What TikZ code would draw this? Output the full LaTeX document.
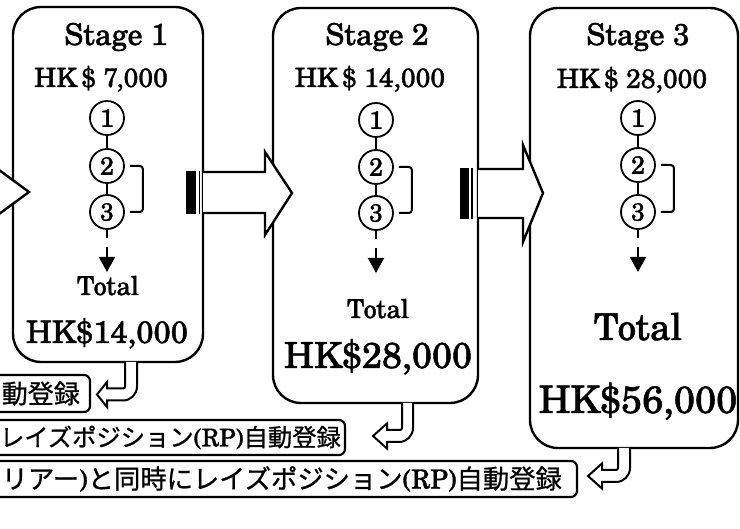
\documentclass[tikz,border=0pt]{standalone}
\usepackage{fontspec}
\setmainfont{TeX Gyre Schola}[FakeBold=1.3]
\newfontfamily\cjk{Noto Sans CJK JP}[FakeBold=0.8]
\usetikzlibrary{arrows.meta,calc}
\newcommand\fs[1]{\fontsize{#1}{#1}\selectfont}
\newcommand\stagecol[5]{%
  \node[num] (#1a) at (#2,#3) {1};
  \node[num] (#1b) at (#2,#4) {2};
  \node[num] (#1c) at (#2,#5) {3};
  \draw[lnk] (#1a) -- (#1b);
  \draw[lnk] (#1b) -- (#1c);
  \draw[lnk, rounded corners=3pt] ([xshift=5pt]#1b.east) -- ++(13,0) |- ([xshift=5pt]#1c.east);
  \coordinate (#1s) at ($(#1c)+(0,26)$);
  \coordinate (#1p) at ($(#1c)+(0,35)$);
  \coordinate (#1q) at ($(#1c)+(0,60)$);
  \draw[lnk] (#1c) -- (#1s);
  \draw[lnk, -{Triangle[length=15pt,width=16pt]}] (#1p) -- (#1q);
}
\newcommand\hookarr[6]{%
  \draw[hookline] (#2,#3) -- (#2,#4-8) to[out=-90,in=0] (#2-14,#4+6) -- (#5,#4+6)
    -- (#5,#4+12.5) -- (#6,#4) -- (#5,#4-12.5) -- (#5,#4-6) -- (#1-2,#4-6)
    to[out=0,in=-90] (#1,#4-8) -- (#1,#3);
}
\begin{document}
\begin{tikzpicture}[x=1pt,y=-1pt,
  box/.style={draw, line width=2.4pt, rounded corners=28pt, inner sep=0pt},
  num/.style={draw, circle, line width=1.8pt, minimum size=34pt, inner sep=0pt, font=\fs{25}},
  lnk/.style={line width=2pt},
  blockarr/.style={draw, fill=white, line width=2.4pt, line join=miter},
  hookline/.style={draw, fill=white, line width=2pt, line join=miter},
  bannerline/.style={draw, line width=2.2pt, rounded corners=6pt},
  txt/.style={anchor=base, inner sep=0pt},
  btxt/.style={anchor=east, inner sep=0pt, font=\cjk\fs{26}}]
\useasboundingbox (0,0) rectangle (740,529);
\clip (0,0) rectangle (740,529);

% stage boxes
\node[box, minimum width=190pt, minimum height=355pt] (s1) at (108,184.5) {};
\node[box, minimum width=205pt, minimum height=395pt] (s2) at (375.5,205.5) {};
\node[box, minimum width=208pt, minimum height=440pt] (s3) at (634,228) {};

% stage 1
\node[txt, font=\fs{30}] (s1title) at (116,45) {Stage 1};
\node[txt, font=\fs{26.5}] (s1price) at (101,87) {HK\,\$ 7,000};
\stagecol{p}{107}{118}{166}{212}
\node[txt, font=\fs{26}] (s1tot) at (108,295) {Total};
\node[txt, font=\fs{31}] (s1sum) at (107,343) {HK\$14,000};

% stage 2
\node[txt, font=\fs{30}] (s2title) at (377,45) {Stage 2};
\node[txt, font=\fs{26.5}] (s2price) at (370,87) {HK\,\$ 14,000};
\stagecol{q}{376}{120}{167}{213}
\node[txt, font=\fs{26}] (s2tot) at (378,318) {Total};
\node[txt, font=\fs{36}] (s2sum) at (378,368) {HK\$28,000};

% stage 3
\node[txt, font=\fs{30}] (s3title) at (638,45) {Stage 3};
\node[txt, font=\fs{26.5}] (s3price) at (632,88) {HK\,\$ 28,000};
\stagecol{r}{638}{118}{165}{212}
\node[txt, font=\fs{37}] (s3tot) at (638,340) {Total};
\node[txt, font=\fs{38}] (s3sum) at (638,413) {HK\$56,000};

% block arrows
\draw[blockarr] (-30,175) -- (-5,175) -- (-5,167) -- (29,192) -- (-5,217) -- (-5,209) -- (-30,209);
\draw[blockarr] (203,172) -- (265,172) -- (265,152) -- (292,193) -- (265,235) -- (265,213) -- (203,213);
\fill (186,171) rectangle (196,214);
\draw[line width=1.5pt] (199.5,171) -- (199.5,214);
\draw[blockarr] (478,169) -- (523,169) -- (523,145) -- (543,193) -- (523,242) -- (523,218) -- (478,218);
\fill (460,168) rectangle (469,219);
\draw[line width=1.5pt] (472,168) -- (472,219);

% hook arrows
\hookarr{125}{137}{362}{394.5}{107}{97}
\hookarr{402}{413}{403}{436}{387}{373}
\hookarr{618}{630}{448}{476}{602}{588}

% banners
\draw[bannerline] (-20,375) rectangle (90,412);
\node[btxt] (b1) at (80,393.5) {動登録};
\draw[bannerline] (-20,420) rectangle (345,455);
\node[btxt, font=\cjk\fs{24.3}] (b2) at (341,437.5) {レイズポジション{\rmfamily (RP)}自動登録};
\draw[bannerline] (-20,461) rectangle (577,497);
\node[btxt, font=\cjk\fs{26.3}] (b3) at (562,479) {リアー{\rmfamily )}と同時にレイズポジション{\rmfamily (RP)}自動登録};
\end{tikzpicture}
\end{document}
